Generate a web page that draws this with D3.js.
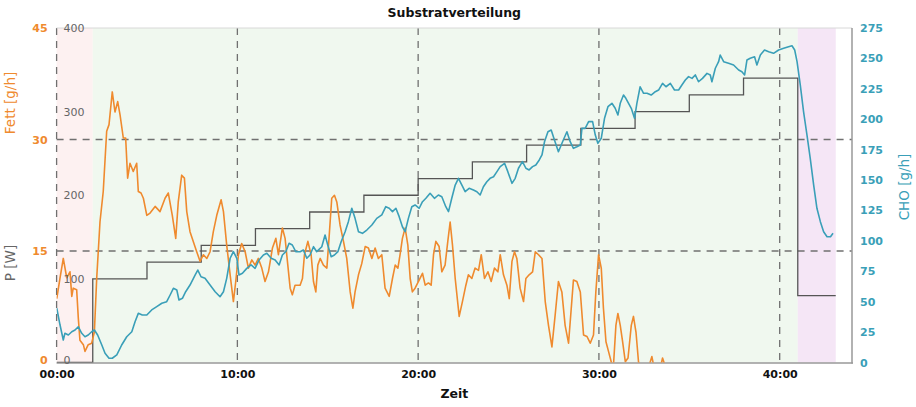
<!DOCTYPE html>
<html><head><meta charset="utf-8">
<script src="https://cdn.jsdelivr.net/npm/d3@7/dist/d3.min.js"></script>
<style>body{margin:0;background:#fff;} svg{display:block;font-family:"DejaVu Sans",Verdana,sans-serif;}</style>
</head><body><svg id="c" width="916" height="407"></svg>
<script>
const fatTime=[0.01,0.19,0.37,0.56,0.74,0.84,0.92,1.11,1.20,1.29,1.48,1.57,1.75,1.94,2.09,2.22,2.40,2.58,2.77,2.90,3.08,3.23,3.38,3.51,3.69,3.82,3.93,4.06,4.24,4.43,4.52,4.67,4.80,4.99,5.17,5.45,5.72,6.00,6.18,6.40,6.59,6.73,6.92,7.07,7.20,7.38,7.75,7.94,8.12,8.31,8.49,8.67,8.86,9.10,9.23,9.41,9.60,9.78,9.91,10.06,10.24,10.43,10.61,10.80,10.98,11.16,11.35,11.53,11.72,11.94,12.13,12.27,12.49,12.64,12.79,12.92,13.04,13.19,13.47,13.60,13.71,13.90,14.08,14.21,14.34,14.45,14.58,14.76,14.95,15.07,15.22,15.37,15.50,15.68,15.87,16.05,16.24,16.39,16.51,16.70,16.88,17.07,17.25,17.44,17.62,17.80,17.99,18.17,18.40,18.58,18.73,18.88,19.00,19.13,19.28,19.43,19.56,19.68,19.83,20.02,20.24,20.39,20.57,20.72,20.85,20.98,21.16,21.31,21.49,21.64,21.77,21.90,22.05,22.27,22.45,22.64,22.78,22.97,23.15,23.34,23.49,23.67,23.86,24.04,24.22,24.41,24.54,24.72,24.91,25.04,25.19,25.33,25.46,25.64,25.83,25.96,26.14,26.33,26.48,26.66,26.85,27.03,27.21,27.40,27.58,27.76,27.95,28.13,28.32,28.47,28.59,28.78,28.97,29.15,29.34,29.52,29.70,29.83,29.98,30.13,30.25,30.39,30.53,30.68,30.79,30.94,31.05,31.18,31.31,31.46,31.61,31.79,31.91,32.05,32.19,32.34,32.73,32.93,33.06,33.39,33.52,33.64];
const fatValue=[8.6,11.4,14.0,11.4,12.2,8.9,10.0,9.8,6.0,3.0,2.4,1.5,2.4,2.6,4.1,11.4,18.9,23.0,31.1,32.0,36.4,33.7,35.1,33.3,30.2,30.2,24.8,26.8,25.7,26.8,23.0,22.8,22.1,19.8,20.1,21.0,20.3,22.1,22.8,19.8,16.7,21.6,25.2,24.8,20.3,17.6,14.9,13.6,14.5,14.0,14.9,17.6,19.8,21.9,20.3,15.8,11.8,8.2,10.9,14.5,16.0,14.9,12.7,13.8,13.1,14.0,12.7,10.9,12.2,15.4,16.7,14.5,18.1,16.7,13.1,10.0,9.1,10.4,10.4,11.3,14.5,16.3,14.5,10.9,9.5,13.1,14.0,13.1,12.7,16.7,22.1,22.5,21.6,18.5,16.3,14.0,9.5,7.3,9.5,11.8,13.3,15.6,15.4,14.0,15.4,14.0,14.5,10.0,8.9,11.3,13.1,12.7,14.5,16.7,18.1,15.8,11.3,9.5,10.0,10.9,12.0,10.4,10.7,10.4,14.5,16.3,15.6,12.2,13.1,16.3,18.9,15.8,11.3,6.2,8.2,10.4,11.8,11.3,12.7,12.4,14.5,11.3,12.2,10.9,12.7,12.2,14.5,11.8,10.4,8.6,13.6,14.9,14.0,10.0,8.2,11.3,11.8,12.2,14.9,14.5,14.0,8.2,5.0,2.1,6.4,10.9,9.5,5.0,2.6,7.3,11.1,10.9,9.5,3.7,3.5,2.6,3.7,9.5,14.5,12.7,7.3,2.8,1.5,0.1,-1.0,5.0,6.6,5.0,2.8,0.1,0.6,5.0,6.2,4.1,0.1,-0.8,-0.8,0.8,-0.8,-0.8,0.6,-0.3];
const choTime=[0.01,0.19,0.37,0.46,0.65,0.84,1.02,1.20,1.39,1.57,1.75,1.94,2.09,2.27,2.50,2.68,2.90,3.08,3.33,3.60,3.88,4.16,4.34,4.52,4.74,4.99,5.26,5.54,5.82,6.09,6.28,6.46,6.65,6.77,6.96,7.14,7.38,7.66,7.81,7.99,8.21,8.49,8.77,9.04,9.23,9.41,9.60,9.78,9.97,10.09,10.28,10.52,10.76,10.98,11.20,11.44,11.63,11.87,12.09,12.31,12.49,12.68,12.86,13.04,13.23,13.47,13.65,13.84,14.02,14.21,14.39,14.67,14.85,15.00,15.19,15.37,15.56,15.74,15.96,16.14,16.33,16.51,16.70,16.92,17.16,17.44,17.71,17.99,18.21,18.40,18.58,18.77,18.95,19.13,19.28,19.46,19.65,19.83,20.06,20.24,20.43,20.66,20.90,21.12,21.31,21.53,21.68,21.86,22.05,22.23,22.42,22.60,22.82,23.06,23.25,23.43,23.61,23.80,23.98,24.17,24.36,24.54,24.78,24.96,25.19,25.37,25.55,25.77,25.96,26.14,26.33,26.51,26.70,26.85,26.99,27.18,27.36,27.54,27.76,27.99,28.23,28.41,28.59,28.78,28.97,29.06,29.24,29.43,29.65,29.80,29.94,30.13,30.31,30.50,30.72,30.90,31.05,31.18,31.36,31.49,31.64,31.79,31.97,32.10,32.28,32.47,32.66,32.89,33.12,33.30,33.52,33.71,33.95,34.18,34.41,34.59,34.78,34.96,35.15,35.33,35.51,35.73,35.98,36.16,36.25,36.44,36.62,36.71,36.90,37.17,37.45,37.73,37.91,38.06,38.19,38.37,38.61,38.74,38.93,39.16,39.39,39.66,39.94,40.22,40.49,40.68,40.83,40.96,41.14,41.32,41.51,41.69,41.88,42.06,42.25,42.43,42.62,42.81,42.95];
const choValue=[44.6,30.8,18.5,24.0,22.6,25.3,26.7,29.4,24.0,21.2,22.6,25.3,26.7,22.6,14.4,7.6,3.5,3.5,6.2,14.4,21.2,25.3,33.5,40.4,39.0,39.0,43.2,45.9,48.7,50.0,55.5,61.0,59.6,51.4,52.8,58.2,63.7,71.9,76.0,70.5,69.2,63.7,58.2,54.1,58.2,69.2,85.7,91.1,85.7,71.9,73.3,77.4,80.2,77.4,84.3,88.4,89.8,85.7,84.3,80.2,88.4,91.1,98.0,96.6,91.1,91.1,92.5,85.7,88.4,95.2,91.1,95.2,104.8,96.6,87.0,88.4,91.1,99.3,107.5,115.8,126.8,118.5,107.5,106.2,108.9,113.0,118.5,121.3,128.1,126.8,124.0,126.8,119.9,111.6,107.5,118.5,128.1,129.5,126.8,132.2,135.0,139.1,135.0,137.7,136.3,128.1,124.0,135.0,145.9,151.4,145.9,140.4,143.2,141.8,140.4,137.7,144.5,148.6,151.4,152.7,156.9,161.0,163.8,156.9,147.3,151.4,159.7,165.1,159.7,158.3,161.0,162.4,166.5,170.6,181.5,189.7,191.1,182.9,173.3,181.5,189.7,181.5,176.1,177.4,178.8,192.5,192.5,198.0,198.0,187.0,180.2,184.3,200.8,210.3,213.1,209.0,203.5,213.1,219.9,217.2,213.1,209.0,200.8,213.1,226.7,221.3,221.3,219.9,222.6,224.0,229.5,226.7,229.5,224.0,224.0,228.1,232.2,235.0,233.6,236.4,230.8,233.6,237.7,236.4,230.8,241.9,247.3,252.8,247.3,246.0,244.6,240.5,239.1,236.4,248.7,250.1,251.4,244.6,252.8,256.9,255.5,254.2,256.9,258.3,259.6,260.4,256.9,247.3,228.1,206.2,187.0,167.9,145.9,126.8,115.8,107.5,103.4,103.4,106.2];
const powerTime=[0,2,5,8,11,14,17,20,23,26,29,32,35,38,41,43.1];
const powerValue=[0,100,120,140,160,180,200,220,240,260,280,300,320,340,80,80];
const phaseStart=[0,2,41];
const phaseEnd=[2,41,43.1];
const phaseColor=["#fdf1f1","#f0f8ef","#f5e6f6"];
const xTicks=[0,10,20,30,40];
const fatTicks=[0,15,30,45];
const powerTicks=[0,100,200,300,400];
const choTicks=[0,25,50,75,100,125,150,175,200,225,250,275];

const ORANGE="#ef8a2e", TEAL="#3a9fb8", GRAY="#555";
const W=916,H=407,L=56.6,R=852,T=28,B=362.5;
const svg=d3.select("#c");
const x=d3.scaleLinear().domain([0,44]).range([L,R]);
const yF=d3.scaleLinear().domain([0,45]).range([B,T]);
const yP=d3.scaleLinear().domain([0,400]).range([B,T]);
const yC=d3.scaleLinear().domain([0,275]).range([B,T]);

svg.append("defs").append("clipPath").attr("id","clip").append("rect")
  .attr("x",L).attr("y",T).attr("width",R-L).attr("height",B-T);

// phase bands
svg.append("g").selectAll("rect").data(phaseStart).join("rect")
  .attr("x",(d)=>x(d)).attr("width",(d,i)=>x(phaseEnd[i])-x(d))
  .attr("y",T).attr("height",B-T).attr("fill",(d,i)=>phaseColor[i]);

// grid
const grid=svg.append("g").attr("stroke","#707070").attr("stroke-width",1.3).attr("stroke-dasharray","7,6");
grid.selectAll("line.h").data([15,30]).join("line").attr("class","h")
  .attr("x1",L).attr("x2",R).attr("y1",d=>yF(d)).attr("y2",d=>yF(d));
grid.selectAll("line.v").data(xTicks).join("line").attr("class","v")
  .attr("y1",T).attr("y2",B).attr("x1",d=>x(d)).attr("x2",d=>x(d));

// frame
svg.append("line").attr("x1",L).attr("x2",R).attr("y1",T).attr("y2",T).attr("stroke","#d8d8d8");
svg.append("line").attr("x1",L).attr("x2",R+1).attr("y1",B+0.5).attr("y2",B+0.5).attr("stroke","#999").attr("stroke-width",1.5);
svg.append("line").attr("x1",R).attr("x2",R).attr("y1",T).attr("y2",B+1).attr("stroke","#999").attr("stroke-width",1.5);

const plot=svg.append("g").attr("clip-path","url(#clip)");
const pIdx=d3.range(powerTime.length);
plot.append("path").attr("fill","none").attr("stroke",GRAY).attr("stroke-width",1.3)
  .attr("d",d3.line().curve(d3.curveStepAfter).x(i=>x(powerTime[i])).y(i=>yP(powerValue[i]))(pIdx));
const fIdx=d3.range(fatTime.length);
plot.append("path").attr("fill","none").attr("stroke",ORANGE).attr("stroke-width",1.6).attr("stroke-linejoin","round")
  .attr("d",d3.line().x(i=>x(fatTime[i])).y(i=>yF(fatValue[i]))(fIdx));
const cIdx=d3.range(choTime.length);
plot.append("path").attr("fill","none").attr("stroke",TEAL).attr("stroke-width",1.6).attr("stroke-linejoin","round")
  .attr("d",d3.line().x(i=>x(choTime[i])).y(i=>yC(choValue[i]))(cIdx));

// axes
function styleAxis(g,color,weight){
  g.select(".domain").remove();
  g.selectAll("text").attr("fill",color).style("font-size","11px").style("font-weight",weight).style("font-family",'"DejaVu Sans",Verdana,sans-serif');
}
svg.append("g").attr("transform",`translate(${L},0)`)
  .call(d3.axisLeft(yF).tickValues(fatTicks).tickSize(0).tickPadding(9))
  .call(g=>styleAxis(g,ORANGE,"bold"))
  .call(g=>g.selectAll(".tick text").filter(d=>d===0).attr("dy","0.05em"));
svg.append("g").attr("transform",`translate(${L},0)`)
  .call(d3.axisRight(yP).tickValues(powerTicks).tickSize(0).tickPadding(7))
  .call(g=>styleAxis(g,"#666","normal"))
  .call(g=>g.selectAll(".tick text").filter(d=>d===0).attr("dy","0.05em"));
svg.append("g").attr("transform",`translate(${R},0)`)
  .call(d3.axisRight(yC).tickValues(choTicks).tickSize(0).tickPadding(8))
  .call(g=>styleAxis(g,TEAL,"bold"));
const fmt=d=>d3.format("02d")(d)+":00";
svg.append("g").attr("transform",`translate(0,${B})`)
  .call(d3.axisBottom(x).tickValues(xTicks).tickFormat(fmt).tickSize(0).tickPadding(8))
  .call(g=>styleAxis(g,"#111","bold"));

// titles
svg.append("text").attr("x",(L+R)/2).attr("y",17).attr("text-anchor","middle")
  .style("font-size","12.5px").style("font-weight","bold").attr("fill","#111").text("Substratverteilung");
svg.append("text").attr("x",(L+R)/2).attr("y",398).attr("text-anchor","middle")
  .style("font-size","12.5px").style("font-weight","bold").attr("fill","#111").text("Zeit");
svg.append("text").attr("transform","translate(15,103) rotate(-90)").attr("text-anchor","middle")
  .style("font-size","13.5px").attr("fill",ORANGE).text("Fett [g/h]");
svg.append("text").attr("transform","translate(15,263) rotate(-90)").attr("text-anchor","middle")
  .style("font-size","13.5px").attr("fill","#666").text("P [W]");
svg.append("text").attr("transform","translate(909,187) rotate(-90)").attr("text-anchor","middle")
  .style("font-size","13.5px").attr("fill",TEAL).text("CHO [g/h]");
</script></body></html>
